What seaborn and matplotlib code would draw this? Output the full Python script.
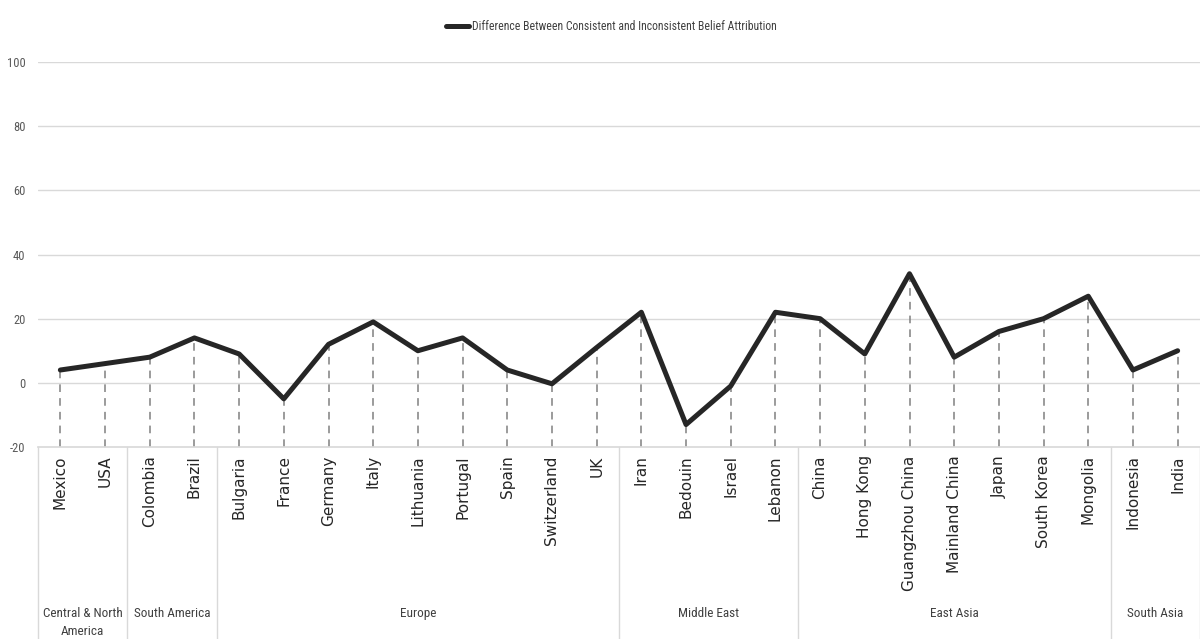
import matplotlib
matplotlib.use("Agg")
import matplotlib.pyplot as plt
import seaborn as sns
import pandas as pd
import numpy as np

countries = ["Mexico", "USA", "Colombia", "Brazil", "Bulgaria", "France", "Germany",
             "Italy", "Lithuania", "Portugal", "Spain", "Switzerland", "UK", "Iran",
             "Bedouin", "Israel", "Lebanon", "China", "Hong Kong", "Guangzhou China",
             "Mainland China", "Japan", "South Korea", "Mongolia", "Indonesia", "India"]
values = [4, 6, 8, 14, 9, -5, 12, 19, 10, 14, 4, -0.3, 11, 22,
          -13, -1, 22, 20, 9, 34, 8, 16, 20, 27, 4, 10]
regions = ["Central & North\nAmerica", "South America", "Europe", "Middle East", "East Asia", "South Asia"]
region_sizes = [2, 2, 9, 4, 7, 2]
series_name = "Difference Between Consistent and Inconsistent Belief Attribution"
yticks = [-20, 0, 20, 40, 60, 80, 100]

sns.set_theme(style="white")
narrow = ["Roboto Condensed", "DejaVu Sans"]
plt.rcParams["font.family"] = ["DejaVu Sans"]
plt.rcParams["axes.unicode_minus"] = False

df = pd.DataFrame({"country": countries, "value": values, "series": series_name})

fig = plt.figure(figsize=(12, 6.39), dpi=100)
ax = fig.add_axes([38 / 1200, (639 - 447) / 639, 1 - 38 / 1200, (447 - 62) / 639])

ax.set_ylim(-20, 100)
ax.set_xlim(-0.5, len(countries) - 0.5)
ax.set_yticks(yticks)
for y in yticks[1:]:
    ax.axhline(y, color="#d9d9d9", lw=1.0, zorder=0)

xs = np.arange(len(countries))
ax.vlines(xs, -20, values, colors="#808080", linestyles=(0, (5, 4)), lw=1.1, zorder=1)

sns.lineplot(data=df, x="country", y="value", hue="series", palette=["#262626"],
             sort=False, lw=3.6, ax=ax, zorder=3)

for s in ["top", "right", "left"]:
    ax.spines[s].set_visible(False)
ax.spines["bottom"].set_color("#d9d9d9")
ax.set_xlabel("")
ax.set_ylabel("")

ax.set_xticks(xs)
ax.set_xticklabels(countries, rotation=90, fontsize=11, color="#262626", va="top")
ax.tick_params(axis="x", length=0, pad=6)
ax.tick_params(axis="y", length=0, pad=9, labelsize=9, labelcolor="#595959")
for lab in ax.get_yticklabels():
    lab.set_family(narrow)

# group separators and labels
trans = ax.get_xaxis_transform()
bound = -0.5
ax.plot([bound, bound], [0, -0.5], transform=trans, color="#d9d9d9", lw=1, clip_on=False)
for name, n in zip(regions, region_sizes):
    center = bound + n / 2
    ax.text(center, -0.415, name, transform=trans, ha="center", va="top",
            fontsize=9.5, color="#404040", family=narrow, linespacing=1.5)
    bound += n
    ax.plot([bound, bound], [0, -0.5], transform=trans, color="#d9d9d9", lw=1, clip_on=False)

leg = ax.legend(loc="center", bbox_to_anchor=(611 / 1200, (639 - 27) / 639), bbox_transform=fig.transFigure,
                frameon=False, handlelength=2.0, handletextpad=0.2, fontsize=8.5)
for t in leg.get_texts():
    t.set_family(narrow)
    t.set_color("#404040")

fig.savefig("out.png", dpi=100)
